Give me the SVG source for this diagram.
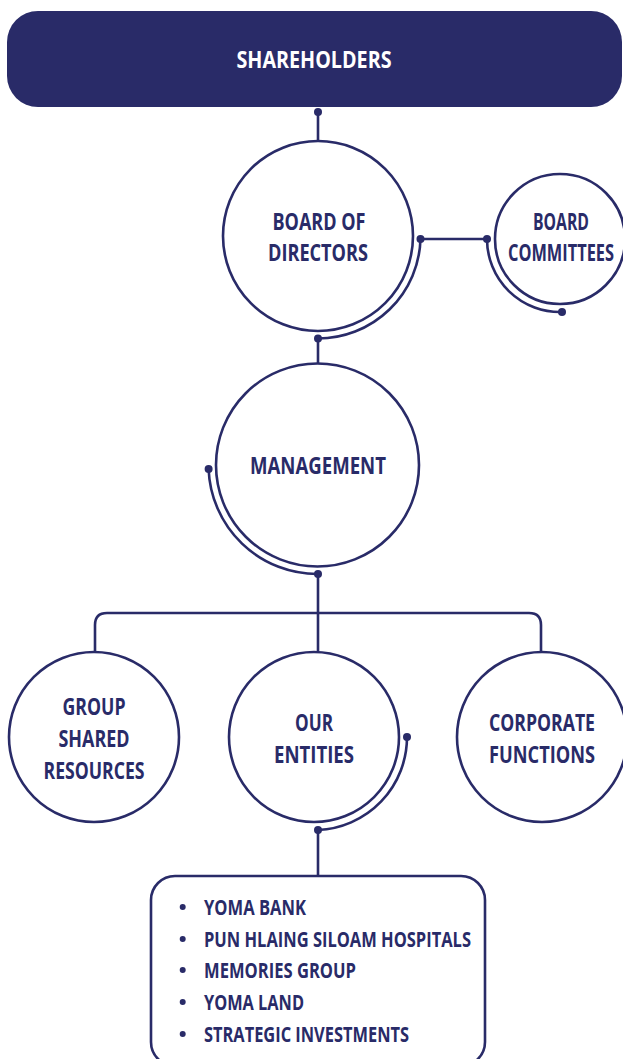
<svg xmlns="http://www.w3.org/2000/svg" width="623" height="1059" viewBox="0 0 623 1059">
<style>
.node{fill:#fff;stroke:#292B68;stroke-width:2.6}
.ln{fill:none;stroke:#292B68;stroke-width:2.6}
.dot{fill:#292B68}
.lbl{font-family:"Open Sans","DejaVu Sans",sans-serif;font-weight:700;font-size:24px;fill:#292B68;text-anchor:middle}
.li{font-family:"Open Sans","DejaVu Sans",sans-serif;font-weight:700;font-size:21px;fill:#292B68}
</style>
<rect x="0" y="0" width="623" height="1059" fill="#fff"/>
<g id="connectors">
<path class="ln" d="M318 112V141"/>
<path class="ln" d="M420.5 239A102.5 102.5 0 0 1 318 338.5"/>
<path class="ln" d="M420.5 239H487"/>
<path class="ln" d="M487 239A73 73 0 0 0 562 312"/>
<path class="ln" d="M318 338.5V364"/>
<path class="ln" d="M208.6 469A109 109 0 0 0 318 574"/>
<path class="ln" d="M318 574V652"/>
<path class="ln" d="M95 652V625Q95 613 107 613H529Q541 613 541 625V652"/>
<path class="ln" d="M407 737A93 93 0 0 1 318 830"/>
<path class="ln" d="M318 830V876"/>
<circle class="dot" cx="318" cy="112" r="4"/>
<circle class="dot" cx="420.5" cy="239" r="4"/>
<circle class="dot" cx="487" cy="239" r="4"/>
<circle class="dot" cx="562" cy="312" r="4"/>
<circle class="dot" cx="318" cy="338.5" r="4"/>
<circle class="dot" cx="208.6" cy="469" r="4"/>
<circle class="dot" cx="318" cy="574" r="4"/>
<circle class="dot" cx="407" cy="737" r="4"/>
<circle class="dot" cx="318" cy="830" r="4"/>
</g>
<g id="shareholders">
<rect x="7" y="11" width="615" height="96" rx="31" fill="#292B68"/>
<text class="lbl" x="314" y="68" style="fill:#fff" textLength="155" lengthAdjust="spacingAndGlyphs">SHAREHOLDERS</text>
</g>
<g id="board-of-directors">
<circle class="node" cx="318" cy="236" r="95"/>
<text class="lbl" x="319" y="230" textLength="93" lengthAdjust="spacingAndGlyphs">BOARD OF</text>
<text class="lbl" x="318" y="261" textLength="100" lengthAdjust="spacingAndGlyphs">DIRECTORS</text>
</g>
<g id="board-committees">
<circle class="node" cx="560" cy="239" r="65"/>
<text class="lbl" x="561" y="230" textLength="56" lengthAdjust="spacingAndGlyphs">BOARD</text>
<text class="lbl" x="561" y="261" textLength="106" lengthAdjust="spacingAndGlyphs">COMMITTEES</text>
</g>
<g id="management">
<circle class="node" cx="317.5" cy="465" r="101.5"/>
<text class="lbl" x="318" y="474" textLength="136" lengthAdjust="spacingAndGlyphs">MANAGEMENT</text>
</g>
<g id="group-shared-resources">
<circle class="node" cx="94" cy="737" r="85"/>
<text class="lbl" x="94" y="715" textLength="63" lengthAdjust="spacingAndGlyphs">GROUP</text>
<text class="lbl" x="94" y="747" textLength="71" lengthAdjust="spacingAndGlyphs">SHARED</text>
<text class="lbl" x="94" y="779" textLength="101" lengthAdjust="spacingAndGlyphs">RESOURCES</text>
</g>
<g id="our-entities">
<circle class="node" cx="314" cy="737" r="85"/>
<text class="lbl" x="314" y="731" textLength="38" lengthAdjust="spacingAndGlyphs">OUR</text>
<text class="lbl" x="314" y="763" textLength="80" lengthAdjust="spacingAndGlyphs">ENTITIES</text>
</g>
<g id="corporate-functions">
<circle class="node" cx="542" cy="737" r="85"/>
<text class="lbl" x="542" y="731" textLength="106" lengthAdjust="spacingAndGlyphs">CORPORATE</text>
<text class="lbl" x="542" y="763" textLength="106" lengthAdjust="spacingAndGlyphs">FUNCTIONS</text>
</g>
<g id="entities-list">
<rect class="node" x="151" y="876" width="334" height="190" rx="24"/>
<circle class="dot" cx="182.7" cy="907" r="3"/>
<circle class="dot" cx="182.7" cy="939" r="3"/>
<circle class="dot" cx="182.7" cy="970" r="3"/>
<circle class="dot" cx="182.7" cy="1002" r="3"/>
<circle class="dot" cx="182.7" cy="1034" r="3"/>
<text class="li" x="204" y="915" textLength="102" lengthAdjust="spacingAndGlyphs">YOMA BANK</text>
<text class="li" x="204" y="947" textLength="267" lengthAdjust="spacingAndGlyphs">PUN HLAING SILOAM HOSPITALS</text>
<text class="li" x="204" y="978" textLength="152" lengthAdjust="spacingAndGlyphs">MEMORIES GROUP</text>
<text class="li" x="204" y="1010" textLength="100" lengthAdjust="spacingAndGlyphs">YOMA LAND</text>
<text class="li" x="204" y="1042" textLength="205" lengthAdjust="spacingAndGlyphs">STRATEGIC INVESTMENTS</text>
</g>
</svg>
